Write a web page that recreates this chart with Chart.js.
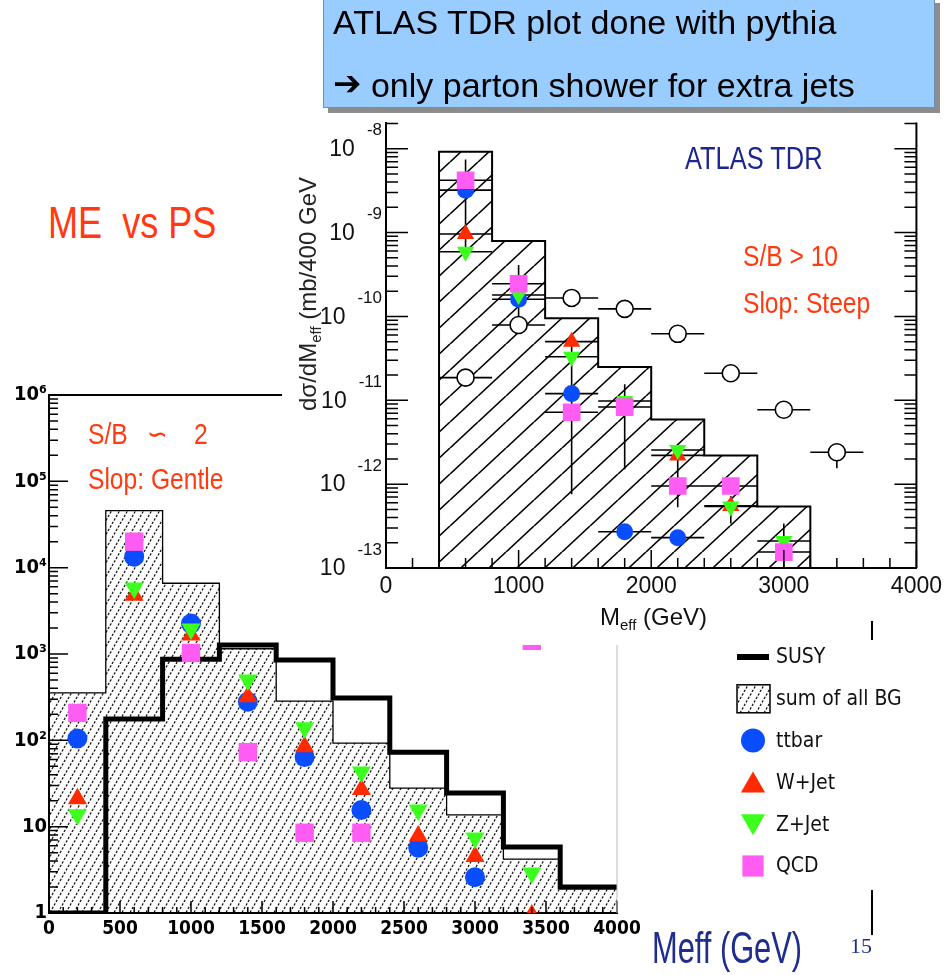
<!DOCTYPE html>
<html>
<head>
<meta charset="utf-8">
<title>ME vs PS</title>
<script src="https://cdn.jsdelivr.net/npm/chart.js@4.4.1/dist/chart.umd.min.js"></script>
<style>
  html, body { margin: 0; padding: 0; background: #fff; }
  body { position: relative; width: 947px; height: 975px; overflow: hidden; font-family: 'Liberation Sans', Arial, sans-serif; }
  canvas { position: absolute; }
  #meChart { left: 0; top: 370px; }
  #psChart { left: 282px; top: 110px; background: #fff; }
  .txt { position: absolute; white-space: nowrap; line-height: 1; }
  .narrow { transform-origin: 0 0; transform: scaleX(0.82); }
  .red { color: #ff3a10; }
  #banner { position: absolute; left: 323px; top: -2px; width: 610px; height: 108px; background: #99ccff; border: 1px solid #6f8fb5; box-shadow: 5px 5px 0 #8c8c8c; }
  #banner div { position: absolute; left: 9px; font-size: 34px; color: #000; white-space: nowrap; line-height: 1; }
  #banner b { font-family: 'DejaVu Sans', sans-serif; font-size: 34px; font-weight: normal; position: relative; top: -2px; }
  #psYTitle { left: 308px; top: 294px; font-size: 24px; color: #222; transform: translate(-50%, -50%) rotate(-90deg); }
  .sub { font-size: 15px; position: relative; top: 5px; }
  .mark { position: absolute; width: 2px; background: #000; }
</style>
</head>
<body>
<canvas id="meChart" width="947" height="605"></canvas>
<canvas id="psChart" width="665" height="535"></canvas>

<div id="banner">
  <div style="top:6px">ATLAS TDR plot done with pythia</div>
  <div style="top:69px"><b>➔</b> only parton shower for extra jets</div>
</div>

<div class="txt narrow red" style="left:48px;top:201px;font-size:44px">ME&nbsp;&nbsp;vs PS</div>
<div class="txt narrow red" style="left:88px;top:419px;font-size:30px">S/B<span style="margin-left:23px">∽</span><span style="margin-left:33px">2</span></div>
<div class="txt narrow red" style="left:88px;top:464px;font-size:30px">Slop: Gentle</div>
<div class="txt narrow" style="left:685px;top:143px;font-size:31px;color:#1c2590">ATLAS TDR</div>
<div class="txt narrow red" style="left:743px;top:241px;font-size:30px">S/B &gt; 10</div>
<div class="txt narrow red" style="left:743px;top:288px;font-size:30px">Slop: Steep</div>
<div class="txt" id="psYTitle">dσ/dM<span class="sub">eff</span> (mb/400 GeV</div>
<div class="txt" style="left:600px;top:605px;font-size:24px;color:#111">M<span class="sub">eff</span> (GeV)</div>
<div class="txt" style="left:652px;top:926px;font-size:44px;color:#1f2d8f;transform-origin:0 0;transform:scaleX(0.70)">Meff (GeV)</div>
<div class="txt" style="left:850px;top:935px;font-size:22px;color:#1f2d8f;font-family:'Liberation Serif',serif">15</div>
<div class="mark" style="left:871px;top:621px;height:19px"></div>
<div class="mark" style="left:871px;top:890px;height:45px"></div>

<script>
const SANS = "'Liberation Sans', Arial, sans-serif";
const NARROW = "'Liberation Sans Narrow', 'DejaVu Sans Condensed', 'Liberation Sans', sans-serif";

// ME plot (left), events per 400 GeV bin
const meEdges   = [0, 400, 800, 1200, 1600, 2000, 2400, 2800, 3200, 3600, 4000];
const meCenters = [200, 600, 1000, 1400, 1800, 2200, 2600, 3000, 3400];
const meSusy  = [1, 177, 870, 1270, 850, 310, 73, 24.5, 5.8, 2.0];
const meBg    = [355, 45700, 6600, 1150, 285, 93, 28, 13.7, 4.2, 1.9];
const meTtbar = [105, 13400, 2250, 280, 64, 15.6, 5.7, 2.6, null];
const meWjet  = [21, 4800, 1660, 320, 84, 27, 7.8, 4.5, 0.95];
const meZjet  = [13.7, 5800, 1950, 500, 140, 43, 15.6, 7.4, 2.9];
const meQcd   = [208, 20000, 1030, 73, 8.5, 8.5, null, null, 1420];

// PS plot (ATLAS TDR, pythia), mb / 400 GeV
const psEdges   = [400, 800, 1200, 1600, 2000, 2400, 2800, 3200];
const psCenters = [600, 1000, 1400, 1800, 2200, 2600, 3000, 3400];
const psBg    = [9.2e-9, 7.9e-10, 9.5e-11, 2.5e-11, 5.9e-12, 2.2e-12, 5.4e-13];
const psSusy  = [1.86e-11, 7.9e-11, 1.66e-10, 1.23e-10, 6.2e-11, 2.1e-11, 7.7e-12, 2.4e-12];
const psTtbar = [3.2e-9, 1.6e-10, 1.2e-11, 2.7e-13, 2.3e-13, null, null, null];
const psWjet  = [9.6e-10, null, 5.0e-11, null, 2.2e-12, 5.5e-13, null, null];
const psZjet  = [5.9e-10, 1.8e-10, 3.3e-11, 9.8e-12, 2.55e-12, 5.4e-13, 2.1e-13, null];
const psQcd   = [4.2e-9, 2.45e-10, 7.2e-12, 8.3e-12, 9.5e-13, 9.5e-13, 1.55e-13, null];
const psErrLo = [4.8e-10, 6.2e-11, 7.6e-13, 1.5e-12, 5.3e-13, 3.4e-13, 1.0e-13, 1.55e-12];
const psErrHi = [7.4e-9, 4.1e-10, 5.4e-11, 1.55e-11, 3.0e-12, 7.2e-13, 3.4e-13, 2.4e-12];
const psHalfBin = 200;
const psExponents = [-8, -9, -10, -11, -12, -13];

const colTtbar = '#0a4dff';
const colWjet = '#ff2a00';
const colZjet = '#3cff1e';
const colQcd = '#ff5cf4';

Chart.defaults.font.family = SANS;

// stepped histogram: one point per left edge, last value carried to the right edge
function histPoints(edges, vals, floor) {
    const pts = [];
    if (floor !== undefined) pts.push({x: edges[0], y: floor});
    vals.forEach((v, i) => pts.push({x: edges[i], y: v}));
    pts.push({x: edges[vals.length], y: vals[vals.length - 1]});
    if (floor !== undefined) pts.push({x: edges[vals.length], y: floor});
    return pts;
}

function markerPoints(xs, vals) {
    return xs.map((x, i) => ({x: x, y: vals[i]})).filter(p => p.y !== null && p.y !== undefined);
}

function hatch(w, h, color, lw, dash) {
    const c = document.createElement('canvas');
    c.width = w; c.height = h;
    const g = c.getContext('2d');
    g.strokeStyle = color;
    g.lineWidth = lw;
    if (dash) g.setLineDash(dash);
    for (let k = -1; k <= 1; k++) {
        g.beginPath();
        g.moveTo(k * w, h);
        g.lineTo(k * w + w, 0);
        g.stroke();
    }
    return g.createPattern(c, 'repeat');
}

const SUP = {'0': '⁰', '1': '¹', '2': '²', '3': '³', '4': '⁴', '5': '⁵', '6': '⁶', '7': '⁷', '8': '⁸', '9': '⁹', '-': '⁻'};
function powLabel(v) {
    const e = Math.log10(v);
    if (Math.abs(e - Math.round(e)) > 1e-6) return '';
    const n = Math.round(e);
    if (n === 0) return '1';
    if (n === 1) return '10';
    return '10' + String(n).split('').map(c => SUP[c]).join('');
}

function logMarks(min, max) {
    const out = [];
    for (let e = Math.floor(Math.log10(min)); e <= Math.ceil(Math.log10(max)); e++) {
        for (let m = 1; m <= 9; m++) {
            const v = m * Math.pow(10, e);
            if (v >= min * 0.999 && v <= max * 1.001) out.push({v: v, major: m === 1});
        }
    }
    return out;
}

// ticks drawn inside the frame, ROOT style
function innerTicks(chart, o) {
    const {ctx, chartArea: a, scales: {x, y}} = chart;
    ctx.save();
    ctx.strokeStyle = '#000';
    ctx.lineWidth = o.lw;
    ctx.beginPath();
    logMarks(y.min, y.max).forEach(t => {
        const py = y.getPixelForValue(t.v);
        const len = t.major ? o.yMajor : o.yMinor;
        ctx.moveTo(a.left, py); ctx.lineTo(a.left + len, py);
        if (o.right) { ctx.moveTo(a.right, py); ctx.lineTo(a.right - len, py); }
    });
    for (let v = x.min; v <= x.max; v += o.xMinorStep) {
        const px = x.getPixelForValue(v);
        const len = v % o.xMajorStep === 0 ? o.xMajor : o.xMinor;
        ctx.moveTo(px, a.bottom); ctx.lineTo(px, a.bottom - len);
    }
    ctx.stroke();
    ctx.restore();
}

const meHatch = hatch(8, 14, '#111', 1.2, [2.5, 1.53]);
const psHatch = hatch(28, 26, '#000', 1.6);

// ---------------- ME chart ----------------
const meDatasets = [
    {label: 'QCD', data: markerPoints(meCenters, meQcd), order: 0, pointStyle: 'rect', pointRadius: 13,
     backgroundColor: colQcd, borderWidth: 0},
    {label: 'Z+Jet', data: markerPoints(meCenters, meZjet), order: 1, pointStyle: 'triangle', pointRotation: 180,
     pointRadius: 11, backgroundColor: colZjet, borderWidth: 0},
    {label: 'W+Jet', data: markerPoints(meCenters, meWjet), order: 2, pointStyle: 'triangle', pointRadius: 11,
     backgroundColor: colWjet, borderWidth: 0},
    {label: 'ttbar', data: markerPoints(meCenters, meTtbar), order: 3, pointStyle: 'circle', pointRadius: 10,
     backgroundColor: colTtbar, borderWidth: 0},
    {label: 'SUSY', data: histPoints(meEdges, meSusy), order: 4, showLine: true, stepped: true,
     borderColor: '#000', borderWidth: 5, pointRadius: 0, fill: false},
    {label: 'sum of all BG', data: histPoints(meEdges, meBg), order: 5, showLine: true, stepped: true,
     borderColor: '#000', borderWidth: 1.3, pointRadius: 0, fill: 'start', backgroundColor: meHatch}
];

const meLegendOrder = [4, 5, 3, 2, 1, 0];

const meDecor = {
    id: 'meDecor',
    afterDraw(chart) {
        const {ctx, chartArea: a} = chart;
        innerTicks(chart, {lw: 1.5, yMajor: 19, yMinor: 9, xMinorStep: 100, xMajorStep: 500, xMajor: 12, xMinor: 6});
        ctx.save();
        ctx.strokeStyle = '#000';
        ctx.lineWidth = 2;
        ctx.beginPath(); ctx.moveTo(a.left, a.top); ctx.lineTo(a.right, a.top); ctx.stroke();
        ctx.strokeStyle = '#bbb';
        ctx.lineWidth = 1;
        ctx.beginPath(); ctx.moveTo(a.right, a.top); ctx.lineTo(a.right, a.bottom); ctx.stroke();

        // legend
        const lx = 753, tx = 776;
        meLegendOrder.forEach((di, i) => {
            const ds = chart.data.datasets[di];
            const y = 287 + i * 41.8;
            ctx.save();
            if (ds.showLine && !ds.fill) {
                ctx.strokeStyle = ds.borderColor; ctx.lineWidth = 6;
                ctx.beginPath(); ctx.moveTo(737, y); ctx.lineTo(769, y); ctx.stroke();
            } else if (ds.fill) {
                ctx.fillStyle = ds.backgroundColor;
                ctx.fillRect(737, y - 14, 33, 28);
                ctx.strokeStyle = '#000'; ctx.lineWidth = 1.5;
                ctx.strokeRect(737, y - 14, 33, 28);
            } else {
                ctx.fillStyle = ds.backgroundColor;
                const r = ds.pointStyle === 'rect' ? 15 : ds.pointStyle === 'circle' ? 12 : 14;
                Chart.helpers.drawPoint(ctx, {pointStyle: ds.pointStyle, rotation: ds.pointRotation || 0,
                    radius: r, borderWidth: 0}, lx, ds.pointStyle === 'triangle' ? y + 3 * (ds.pointRotation ? -1 : 1) : y);
            }
            ctx.restore();
            ctx.fillStyle = '#111';
            ctx.font = '21px ' + NARROW;
            ctx.textBaseline = 'middle';
            ctx.textAlign = 'left';
            ctx.fillText(ds.label, tx, y + 1);
        });
        ctx.restore();
    }
};

new Chart(document.getElementById('meChart'), {
    type: 'scatter',
    data: {datasets: meDatasets},
    options: {
        animation: false,
        responsive: false,
        devicePixelRatio: 1,
        events: [],
        layout: {padding: {left: 0, top: 25, right: 330, bottom: 0}},
        plugins: {legend: {display: false}, tooltip: {enabled: false}},
        scales: {
            x: {
                type: 'linear', min: 0, max: 4000,
                ticks: {stepSize: 500, autoSkip: false, maxRotation: 0, padding: 5, color: '#000',
                        callback: v => String(v),
                        font: {family: NARROW, size: 19, weight: 'bold'}},
                grid: {display: false, drawTicks: false},
                border: {color: '#000', width: 2},
                afterFit(s) { s.height = 62; }
            },
            y: {
                type: 'logarithmic', min: 1, max: 1e6,
                ticks: {callback: v => powLabel(v), autoSkip: false, padding: 2, color: '#000',
                        font: {family: NARROW, size: 20, weight: 'bold'}},
                grid: {display: false, drawTicks: false},
                border: {color: '#000', width: 2},
                afterFit(s) { s.width = 49; }
            }
        }
    },
    plugins: [meDecor]
});

// ---------------- PS chart ----------------
const psDatasets = [
    {label: 'QCD', data: markerPoints(psCenters, psQcd), order: 0, pointStyle: 'rect', pointRadius: 12.5,
     backgroundColor: colQcd, borderWidth: 0, errBars: true},
    {label: 'Z+Jet', data: markerPoints(psCenters, psZjet), order: 1, pointStyle: 'triangle', pointRotation: 180,
     pointRadius: 10, backgroundColor: colZjet, borderWidth: 0, errBars: true},
    {label: 'W+Jet', data: markerPoints(psCenters, psWjet), order: 2, pointStyle: 'triangle', pointRadius: 10,
     backgroundColor: colWjet, borderWidth: 0, errBars: true},
    {label: 'ttbar', data: markerPoints(psCenters, psTtbar), order: 3, pointStyle: 'circle', pointRadius: 8.5,
     backgroundColor: colTtbar, borderWidth: 0, errBars: true},
    {label: 'SUSY', data: markerPoints(psCenters, psSusy), order: 4, pointStyle: 'circle', pointRadius: 8.5,
     backgroundColor: '#fff', borderColor: '#000', borderWidth: 1.6, errBars: true},
    {label: 'sum of all BG', data: histPoints(psEdges, psBg, 1e-13), order: 5, showLine: true, stepped: true,
     borderColor: '#000', borderWidth: 2, pointRadius: 0, fill: 'start', backgroundColor: psHatch}
];

const psDecor = {
    id: 'psDecor',
    afterDatasetDraw(chart, args) {
        if (args.index !== 5) return;
        const {ctx, scales: {x, y}} = chart;
        ctx.save();
        ctx.strokeStyle = '#000';
        ctx.lineWidth = 1.6;
        ctx.beginPath();
        chart.data.datasets.forEach(ds => {
            if (!ds.errBars) return;
            ds.data.forEach(p => {
                const py = y.getPixelForValue(p.y);
                ctx.moveTo(x.getPixelForValue(p.x - psHalfBin), py);
                ctx.lineTo(x.getPixelForValue(p.x + psHalfBin), py);
            });
        });
        psCenters.forEach((c, i) => {
            const px = x.getPixelForValue(c);
            ctx.moveTo(px, y.getPixelForValue(psErrLo[i]));
            ctx.lineTo(px, y.getPixelForValue(psErrHi[i]));
        });
        ctx.stroke();
        ctx.restore();
    },
    afterDraw(chart) {
        const {ctx, chartArea: a, scales: {y}} = chart;
        innerTicks(chart, {lw: 1.5, yMajor: 22, yMinor: 12, right: true, xMinorStep: 200, xMajorStep: 1000, xMajor: 18, xMinor: 10});
        ctx.save();
        ctx.strokeStyle = '#000';
        ctx.lineWidth = 2;
        ctx.beginPath(); ctx.moveTo(a.right, a.top); ctx.lineTo(a.right, a.bottom); ctx.stroke();

        // "10" with the exponent lifted above, as in the original
        ctx.fillStyle = '#111';
        ctx.textAlign = 'right';
        ctx.textBaseline = 'middle';
        psExponents.forEach(e => {
            const py = y.getPixelForValue(Math.pow(10, e));
            const ex = a.left - 4;
            ctx.font = '17px ' + SANS;
            const txt = String(e);
            const w = ctx.measureText(txt).width;
            ctx.fillText(txt, ex, py - 18);
            ctx.font = '23px ' + SANS;
            ctx.fillText('10', ex - w - 12, py + 1);
        });
        ctx.restore();
    }
};

new Chart(document.getElementById('psChart'), {
    type: 'scatter',
    data: {datasets: psDatasets},
    options: {
        animation: false,
        responsive: false,
        devicePixelRatio: 1,
        events: [],
        layout: {padding: {left: 0, top: 10, right: 26, bottom: 0}},
        plugins: {legend: {display: false}, tooltip: {enabled: false}},
        scales: {
            x: {
                type: 'linear', min: 0, max: 4000,
                ticks: {stepSize: 1000, autoSkip: false, maxRotation: 0, padding: 5, color: '#111',
                        callback: v => String(v),
                        font: {family: SANS, size: 23}},
                grid: {display: false, drawTicks: false},
                border: {color: '#000', width: 2},
                afterFit(s) { s.height = 77; }
            },
            y: {
                type: 'logarithmic', min: 1e-13, max: 2.05e-8,
                ticks: {display: false},
                grid: {display: false, drawTicks: false},
                border: {color: '#000', width: 2},
                afterFit(s) { s.width = 104; }
            }
        }
    },
    plugins: [psDecor]
});
</script>
</body>
</html>
